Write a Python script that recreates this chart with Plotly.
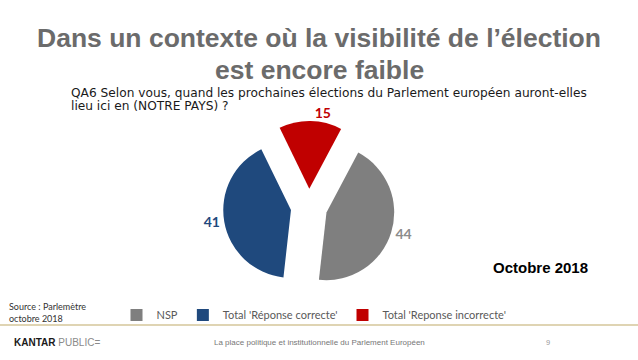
import plotly.graph_objects as go

categories = ["NSP", "Total 'Réponse correcte'", "Total 'Reponse incorrecte'"]
values = [44, 41, 15]
slice_colors = ["#7f7f7f", "#1f497d", "#c00000"]
label_colors = ["#8c8c8c", "#1f497d", "#c00000"]

title_line1 = "Dans un contexte où la visibilité de l’élection"
title_line2 = "est encore faible"
question_line1 = "QA6 Selon vous, quand les prochaines élections du Parlement européen auront-elles"
question_line2 = "lieu ici en (NOTRE PAYS) ?"
period = "Octobre 2018"
source = "Source : Parlemètre<br>octobre 2018"
footer_mid = "La place politique et institutionnelle du Parlement Européen"
page_no = "9"

W, H = 638, 360

def px(x):
    return x / W

def py(y):
    return 1 - y / H

fig = go.Figure()
fig.add_trace(go.Pie(
    labels=categories,
    values=values,
    sort=False,
    direction="clockwise",
    rotation=28,
    pull=[0.27, 0.27, 0.27],
    marker=dict(colors=slice_colors, line=dict(color="white", width=0)),
    textinfo="value",
    textposition="outside",
    textfont=dict(family="Lato", size=14, color=label_colors, weight="bold"),
    domain=dict(x=[px(309 - 86), px(309 + 86)], y=[py(207 + 86), py(207 - 86)]),
    hoverinfo="label+value",
))

annotations = [
    dict(text=title_line1, x=px(319), y=py(38), xanchor="center", yanchor="middle",
         font=dict(family="Liberation Sans", size=26.5, color="#6b6b6b", weight="bold")),
    dict(text=title_line2, x=px(319), y=py(70), xanchor="center", yanchor="middle",
         font=dict(family="Liberation Sans", size=26.5, color="#6b6b6b", weight="bold")),
    dict(text=question_line1, x=px(69), y=py(93), xanchor="left", yanchor="middle", align="left",
         font=dict(family="DejaVu Sans", size=12.2, color="#1a1a1a")),
    dict(text=question_line2, x=px(69), y=py(106), xanchor="left", yanchor="middle", align="left",
         font=dict(family="DejaVu Sans", size=12.2, color="#1a1a1a")),
    dict(text=period, x=px(540), y=py(267), xanchor="center", yanchor="middle",
         font=dict(family="Liberation Sans", size=15, color="#000000", weight="bold")),
    dict(text=source, x=px(7), y=py(299), xanchor="left", yanchor="top", align="left",
         font=dict(family="Lato", size=9, color="#333333")),
    dict(text="<b>KANTAR</b> <span style='color:#8a8a8a'>PUBLIC=</span>", x=px(12), y=py(342),
         xanchor="left", yanchor="middle",
         font=dict(family="Liberation Sans", size=10, color="#1a1a1a")),
    dict(text=footer_mid, x=px(319), y=py(342), xanchor="center", yanchor="middle",
         font=dict(family="Liberation Sans", size=8, color="#777777")),
    dict(text=page_no, x=px(548), y=py(342), xanchor="center", yanchor="middle",
         font=dict(family="Liberation Sans", size=7.5, color="#999999")),
]
for a in annotations:
    a.update(xref="paper", yref="paper", showarrow=False)

fig.update_layout(
    width=W, height=H,
    margin=dict(l=0, r=0, t=0, b=0),
    paper_bgcolor="white",
    plot_bgcolor="white",
    showlegend=True,
    legend=dict(orientation="h", x=px(314), xanchor="center", y=py(315), yanchor="middle",
                font=dict(family="Lato", size=11, color="#595959"),
                itemwidth=30, traceorder="normal", bgcolor="rgba(0,0,0,0)"),
    annotations=annotations,
    shapes=[dict(type="line", xref="paper", yref="paper", x0=0, x1=1, y0=py(325), y1=py(325),
                 line=dict(color="#bfa968", width=1.2))],
)

fig.write_html("out.html", config={"displayModeBar": False},
               post_script="document.body.style.margin='0px';")
